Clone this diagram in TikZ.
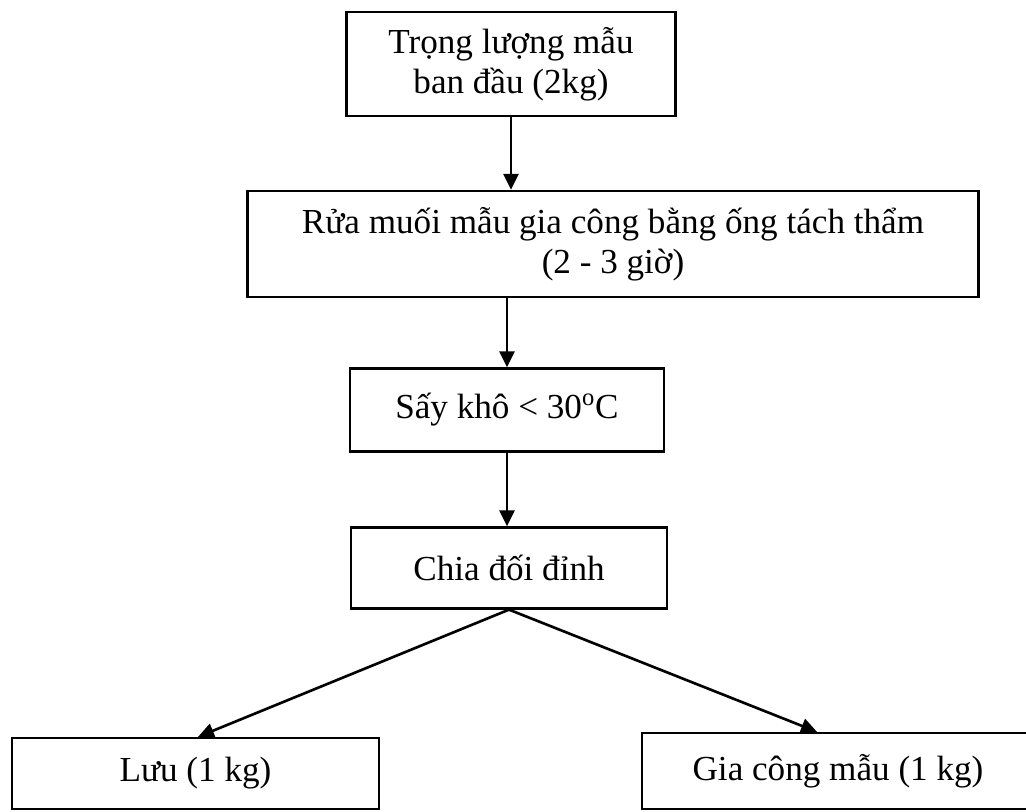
\documentclass[tikz,border=0pt]{standalone}
\usepackage{fontspec}
\setmainfont{Liberation Serif}
\usetikzlibrary{arrows.meta}

\begin{document}
\begin{tikzpicture}[x=0.02cm,y=-0.02cm,
  stepbox/.style={draw,line width=1.3pt,align=center,inner sep=2pt,
    font=\fontsize{20}{23}\selectfont},
  flow/.style={line width=1.5pt,-{Triangle[length=0.32cm,width=0.3cm]}}]
\useasboundingbox (0,0) rectangle (1026,811); % Page frame
% Define the main nodes (chain and its two branches)
\node[stepbox,minimum width=6.58cm,minimum height=2.08cm] (weigh) at (511,64) {Trọng lượng mẫu\\ban đầu (2kg)}; % Top node
\node[stepbox,minimum width=14.62cm,minimum height=2.12cm] (wash) at (613,244) {Rửa muối mẫu gia công bằng ống tách thẩm\\(2 - 3 giờ)}; % Washing
\node[stepbox,minimum width=6.28cm,minimum height=1.66cm] (dry) at (507,410) {Sấy khô < 30\textsuperscript{o}C}; % Drying
\node[stepbox,minimum width=6.32cm,minimum height=1.62cm] (split) at (509,568) {Chia đối đỉnh}; % Splitting
\node[stepbox,minimum width=7.34cm,minimum height=1.42cm] (keep) at (195.5,773.5) {Lưu (1 kg)}; % Left branch
\node[stepbox,minimum width=7.84cm,minimum height=1.52cm] (work) at (838,771) {Gia công mẫu (1 kg)}; % Right branch
% Connectors
\draw[flow] (weigh.south) -- (weigh.south |- wash.north);
\draw[flow] (dry.north |- wash.south) -- (dry.north);
\draw[flow] (dry.south) -- (dry.south |- split.north);
\draw[flow] (split.south) -- ([xshift=0.05cm]keep.north);
\draw[flow] (split.south) -- ([xshift=-0.42cm]work.north);
\end{tikzpicture}
\end{document}
